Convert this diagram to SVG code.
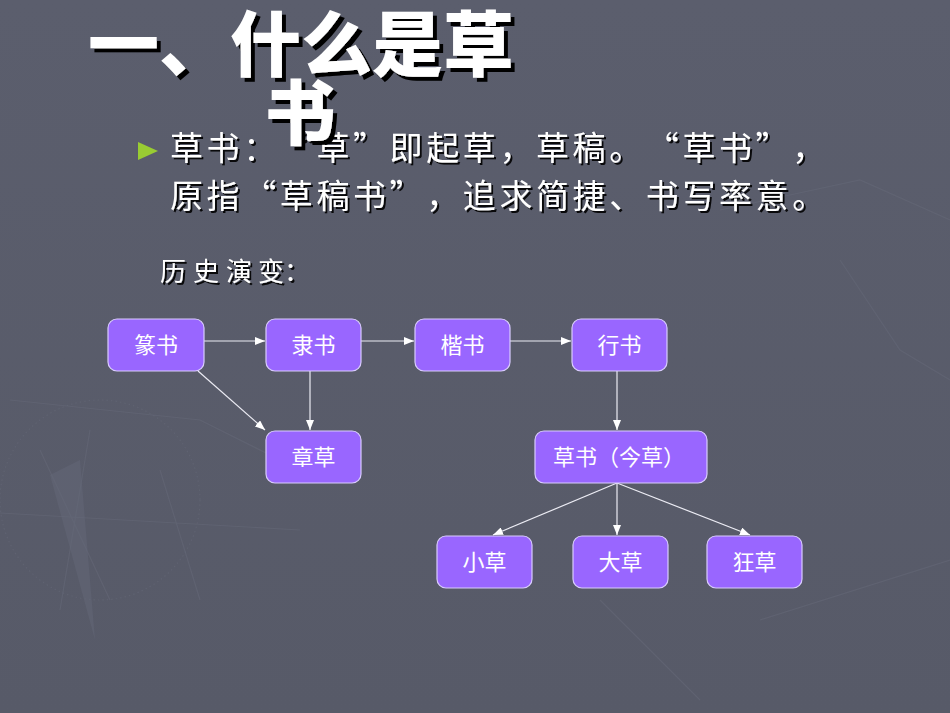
<svg xmlns="http://www.w3.org/2000/svg" width="950" height="713" viewBox="0 0 950 713">
<defs>
<linearGradient id="bg" x1="0" y1="0" x2="0" y2="1">
<stop offset="0" stop-color="#5b5e6d"/>
<stop offset="1" stop-color="#575a68"/>
</linearGradient>
<filter id="tsh" x="-10%" y="-10%" width="130%" height="130%">
<feDropShadow dx="4" dy="4" stdDeviation="0" flood-color="#000" flood-opacity="1"/>
</filter>
<filter id="bsh" x="-10%" y="-10%" width="130%" height="130%">
<feDropShadow dx="2" dy="2" stdDeviation="0.6" flood-color="#000" flood-opacity="0.9"/>
</filter>
<marker id="arr" markerUnits="userSpaceOnUse" markerWidth="10" markerHeight="8" refX="10" refY="4" orient="auto">
<path d="M0,0 L10,4 L0,8 z" fill="#ffffff"/>
</marker>
<style>
.node rect{fill:#9966ff;stroke:#d9ccff;stroke-width:1.2}
.node text{font-family:"Noto Sans CJK SC","Noto Sans",sans-serif;font-size:22px;fill:#ffffff;text-anchor:middle}
.edge{stroke:#ececf4;stroke-width:1.2;fill:none;marker-end:url(#arr)}
.body{font-family:"Noto Sans CJK SC","Noto Sans",sans-serif;font-size:33px;fill:#ffffff;filter:url(#bsh)}
.title{font-family:"Noto Sans CJK SC","Noto Sans",sans-serif;font-size:71px;font-weight:900;fill:#ffffff;text-anchor:middle;filter:url(#tsh)}
.tex{stroke:#646776;stroke-width:1.2;fill:none;opacity:0.6}
</style>
</defs>
<rect x="0" y="0" width="950" height="713" fill="url(#bg)"/>
<g id="background-texture">
<circle class="tex" cx="100" cy="500" r="100" stroke-width="8" stroke-dasharray="1.5 3" opacity="0.35"/>
<path class="tex" d="M0,513 L300,530 M10,400 L200,420 L300,470 M40,450 L110,600 M90,430 L60,610 M160,470 L200,600 M720,210 L860,180 L950,220 M840,260 L900,350 L950,380 M600,600 L700,700 M760,620 L950,560"/>
<path d="M50,475 L95,640 L80,460 z" fill="#646777" opacity="0.5"/>
</g>
<g id="bullet">
<polygon points="138,142 158,151 138,160" fill="#99cc33"/>
<text class="body" y="160" x="170 206.6 243.2 279.8 316.4 353 389.6 426.2 462.8 499.4 536 572.6 609.2 645.8 682.4 719 755.6 792.2">草书：“草”即起草，草稿。“草书”，</text>
<text class="body" y="208" x="170 206.6 243.2 279.8 316.4 353 389.6 426.2 462.8 499.4 536 572.6 609.2 645.8 682.4 719 755.6 792.2">原指“草稿书”，追求简捷、书写率意。</text>
</g>
<g id="history-label">
<text class="body" style="font-size:26px" y="281" x="160 193 226 258 284">历史演变：</text>
</g>
<g id="connectors">
<line class="edge" x1="204" y1="341" x2="265" y2="341"/>
<line class="edge" x1="361" y1="341" x2="414" y2="341"/>
<line class="edge" x1="510" y1="341" x2="571" y2="341"/>
<line class="edge" x1="198" y1="371" x2="265" y2="430"/>
<line class="edge" x1="310" y1="371" x2="310" y2="430"/>
<line class="edge" x1="617" y1="371" x2="617" y2="430"/>
<line class="edge" x1="617" y1="483" x2="493" y2="535"/>
<line class="edge" x1="617" y1="483" x2="617" y2="535"/>
<line class="edge" x1="617" y1="483" x2="750" y2="535"/>
</g>
<g id="node-zhuanshu" class="node"><rect x="108" y="319" width="96" height="52" rx="9"/><text x="156" y="353">篆书</text></g>
<g id="node-lishu" class="node"><rect x="266" y="319" width="95" height="52" rx="9"/><text x="313.5" y="353">隶书</text></g>
<g id="node-kaishu" class="node"><rect x="415" y="319" width="95" height="52" rx="9"/><text x="462.5" y="353">楷书</text></g>
<g id="node-xingshu" class="node"><rect x="572" y="319" width="95" height="52" rx="9"/><text x="619.5" y="353">行书</text></g>
<g id="node-zhangcao" class="node"><rect x="266" y="431" width="95" height="52" rx="9"/><text x="313.5" y="465">章草</text></g>
<g id="node-caoshu" class="node"><rect x="535" y="431" width="172" height="52" rx="9"/><text x="619" y="465">草书（今草）</text></g>
<g id="node-xiaocao" class="node"><rect x="437" y="536" width="95" height="52" rx="9"/><text x="484.5" y="570">小草</text></g>
<g id="node-dacao" class="node"><rect x="573" y="536" width="95" height="52" rx="9"/><text x="620.5" y="570">大草</text></g>
<g id="node-kuangcao" class="node"><rect x="707" y="536" width="95" height="52" rx="9"/><text x="754.5" y="570">狂草</text></g>
<g id="title">
<text class="title" x="301" y="70">一、什么是草</text>
<text class="title" x="300" y="139">书</text>
</g>
</svg>
